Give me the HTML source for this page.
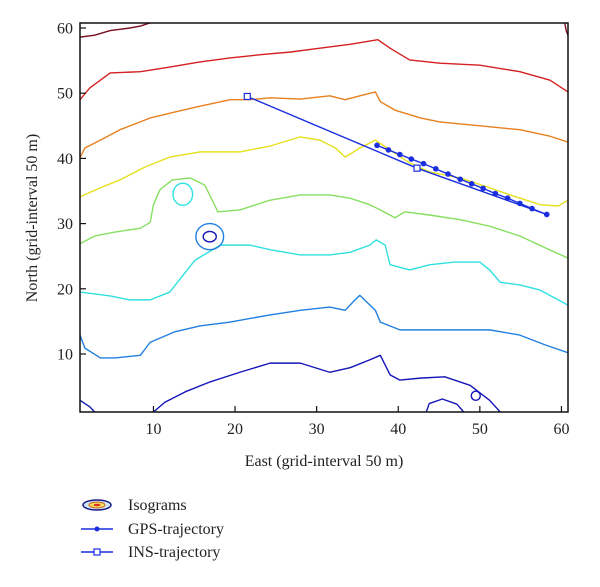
<!DOCTYPE html>
<html><head><meta charset="utf-8"><style>
html,body{margin:0;padding:0;background:#fff;width:600px;height:587px;overflow:hidden}
svg text{font-family:"Liberation Serif",serif;fill:#222}
</style></head><body>
<svg id="chart" width="600" height="587" viewBox="0 0 600 587" xmlns="http://www.w3.org/2000/svg">
<defs><clipPath id="clip"><rect x="80" y="23" width="488" height="389"/></clipPath></defs>
<g id="contours" clip-path="url(#clip)"></g>
<g id="traj"></g>
<rect x="80" y="23" width="488" height="389" fill="none" stroke="#111" stroke-width="1.5"/>
<g id="axes"></g>
<text x="324" y="466" text-anchor="middle" font-size="16">East (grid-interval 50 m)</text>
<text transform="translate(37,218) rotate(-90)" text-anchor="middle" font-size="16">North (grid-interval 50 m)</text>
<g>
  <g>
    <ellipse cx="97" cy="505" rx="14" ry="5" fill="#cfe9f5" stroke="#1a1a8a" stroke-width="1.5"/>
    <ellipse cx="97" cy="505" rx="8" ry="3" fill="#f0e060" stroke="#d06020" stroke-width="1"/>
    <ellipse cx="97" cy="505" rx="3.5" ry="1.2" fill="#e03020"/>
    <text x="128" y="510" font-size="16">Isograms</text>
  </g>
  <g>
    <line x1="81" y1="529" x2="113" y2="529" stroke="#1a2ee0" stroke-width="1.5"/>
    <circle cx="97" cy="529" r="2.5" fill="#1a2ee0"/>
    <text x="128" y="534" font-size="16">GPS-trajectory</text>
  </g>
  <g>
    <line x1="81" y1="552" x2="113" y2="552" stroke="#1a2ee0" stroke-width="1.5"/>
    <rect x="94" y="549" width="6" height="6" fill="#fff" stroke="#1a2ee0" stroke-width="1.2"/>
    <text x="128" y="557" font-size="16">INS-trajectory</text>
  </g>
</g>
</svg>
<script>
const xTicks = [10,20,30,40,50,60];
const yTicks = [10,20,30,40,50,60];
const gpsX = [37.4,38.8,40.2,41.6,43.1,44.6,46.1,47.6,49.0,50.4,51.9,53.4,54.9,56.4,58.2];
const gpsY = [42.0,41.3,40.6,39.9,39.2,38.4,37.6,36.8,36.1,35.4,34.6,33.9,33.1,32.3,31.4];
const insX = [21.5,42.3,58.2];
const insY = [49.5,38.5,31.4];
const insMarked = [true,true,false];
const contourColors = ['#7a1020','#d42020','#e8801e','#e6e01c','#86e060','#30e0e0','#2080e0','#1414b8'];
const contourLines = [
 {c:0, p:[[1,58.6],[2.8,58.9],[4.7,59.6],[7.1,60],[8.4,60.3],[9.6,60.8]]},
 {c:0, p:[[60.4,60.8],[60.6,59.5],[60.9,58.6]]},
 {c:1, p:[[1,49],[2.2,50.8],[4.7,53.1],[8.4,53.3],[12,54],[15.7,54.8],[19.4,55.4],[23.1,55.9],[26.7,56.3],[30.4,56.9],[34.1,57.5],[37.5,58.2],[39,56.9],[41.4,55.1],[45.1,54.6],[50,54.3],[54.9,53.3],[58.6,52],[60.8,50.2]]},
 {c:2, p:[[1,40.1],[1.6,41.6],[3.5,42.8],[5.9,44.4],[9.6,46.2],[12.6,47.1],[15.7,48],[19.4,49],[21.8,49],[24.3,49.3],[28,49.1],[31.6,49.6],[33.5,49],[35.3,49.6],[37.2,50.2],[37.8,48.7],[39.6,47.4],[42.7,46.2],[45.1,45.6],[50,45],[54.9,44.4],[58.6,43.4],[60.8,42.5]]},
 {c:3, p:[[1,34.1],[3.5,35.5],[5.9,36.7],[9,38.7],[12,40.2],[15.7,41],[20.6,41],[24.3,41.9],[28,43.3],[30.4,42.8],[32.3,41.6],[33.5,40.2],[35.3,41.6],[37.2,42.8],[39,41.3],[41.4,39.3],[43.9,37.9],[47.6,37],[51.2,35.5],[53.7,34.4],[57.4,32.9],[59.6,32.7],[60.8,33.6]]},
 {c:4, p:[[1,26.9],[2.8,28.1],[5.3,28.7],[8.4,29.3],[9.6,30.2],[10,32.9],[10.8,35.2],[12.3,36.7],[14.5,37],[16.3,35.9],[17.2,33.6],[17.9,31.8],[20.6,32.1],[24.3,33.6],[28,34.4],[31.6,34.4],[34.1,33.9],[36.5,32.9],[37.8,32.1],[39.6,30.9],[40.8,31.8],[43.9,31.3],[47.6,30.6],[51.2,29.6],[54.9,28.1],[58,26.3],[60.8,24.7]]},
 {c:5, p:[[1,19.5],[4.7,18.9],[7.1,18.3],[9.6,18.3],[12,19.5],[15.1,24.4],[18.2,26.7],[21.8,26.7],[24.3,26],[28,25.2],[31.6,25.2],[34.1,25.6],[36.5,26.7],[37.3,27.5],[38.4,26.7],[39,23.7],[41.4,22.9],[43.9,23.7],[46.9,24.1],[50,24.1],[51.2,22.9],[52.5,21],[54.9,20.6],[57.4,19.8],[60.8,17.5]]},
 {c:6, p:[[1,12.9],[1.6,10.9],[3.5,9.4],[5.3,9.4],[8.4,9.8],[9.6,11.8],[12.6,13.4],[15.7,14.3],[19.4,14.9],[24.3,16],[28,16.7],[31.6,17.2],[33.5,16.7],[34.7,18.3],[35.3,19],[37.2,16.7],[37.8,14.9],[40.2,13.7],[43.9,13.7],[47.6,13.7],[51.2,13.7],[54.9,12.9],[58,11.4],[60.8,10.2]]},
 {c:7, p:[[1,2.9],[2.2,1.9],[2.8,1.1]]},
 {c:7, p:[[10,1.1],[11.4,2.6],[13.9,4.2],[16.9,5.7],[20.6,7.2],[24.3,8.6],[28,8.6],[31.6,7.2],[34.1,7.9],[36.5,9.1],[37.8,9.8],[39,6.8],[40.2,6],[42.7,6.3],[45.7,6.5],[48.8,5.2],[51.2,2.9],[52.5,1.1]]},
 {c:7, p:[[43.4,1],[43.8,2.4],[45.4,3.1],[47.2,2.3],[48.1,1]]}
];
const contourLoops = [
 {c:5, cx:13.6, cy:34.5, rx:1.2, ry:1.7},
 {c:6, cx:16.9, cy:28, rx:1.7, ry:2.0},
 {c:7, cx:16.9, cy:28, rx:0.8, ry:0.8},
 {c:7, cx:49.5, cy:3.6, rx:0.55, ry:0.7}
];
const NS='http://www.w3.org/2000/svg';
const X0=80, PXX=8.16, Y60=28, PXY=6.52;
function sx(d){return X0+(d-1)*PXX;}
function sy(d){return Y60+(60-d)*PXY;}
function mk(tag,attrs,parent){const e=document.createElementNS(NS,tag);for(const k in attrs)e.setAttribute(k,attrs[k]);parent.appendChild(e);return e;}
const cg=document.getElementById('contours');
contourLines.forEach((l,i)=>{
  const e=mk('polyline',{points:l.p.map(q=>sx(q[0])+','+sy(q[1])).join(' '),fill:'none',stroke:contourColors[l.c],'stroke-width':1.4,'stroke-linejoin':'round'},cg);
  
  
});
contourLoops.forEach(o=>{
  const e=mk('ellipse',{cx:sx(o.cx),cy:sy(o.cy),rx:o.rx*PXX,ry:o.ry*PXY,fill:'none',stroke:contourColors[o.c],'stroke-width':1.4},cg);
  
  
});
const tg=document.getElementById('traj');
const insLine=mk('polyline',{points:insX.map((v,i)=>sx(v)+','+sy(insY[i])).join(' '),fill:'none',stroke:'#1a2ee0','stroke-width':1.4},tg);


const gpsLine=mk('polyline',{points:gpsX.map((v,i)=>sx(v)+','+sy(gpsY[i])).join(' '),fill:'none',stroke:'#1a2ee0','stroke-width':1.4},tg);


gpsX.forEach((v,i)=>{
  const e=mk('circle',{cx:sx(v),cy:sy(gpsY[i]),r:2.8,fill:'#1a2ee0'},tg);
  
  
});
insX.forEach((v,i)=>{
  if(!insMarked[i])return;
  const e=mk('rect',{x:sx(v)-3,y:sy(insY[i])-3,width:6,height:6,fill:'#fff',stroke:'#1a2ee0','stroke-width':1.2},tg);
  
  
});
const ag=document.getElementById('axes');
xTicks.forEach(t=>{
  const x=sx(t);
  const l=mk('line',{x1:x,y1:412,x2:x,y2:406,stroke:'#111','stroke-width':1.2},ag);
  
  
  const tx=mk('text',{x:x,y:434,'text-anchor':'middle','font-size':16},ag);
  tx.textContent=t;
  
  
});
yTicks.forEach(t=>{
  const y=sy(t);
  const l=mk('line',{x1:80,y1:y,x2:86,y2:y,stroke:'#111','stroke-width':1.2},ag);
  
  
  const tx=mk('text',{x:73,y:y+5.5,'text-anchor':'end','font-size':16},ag);
  tx.textContent=t;
  
  
});
</script>
</body></html>
